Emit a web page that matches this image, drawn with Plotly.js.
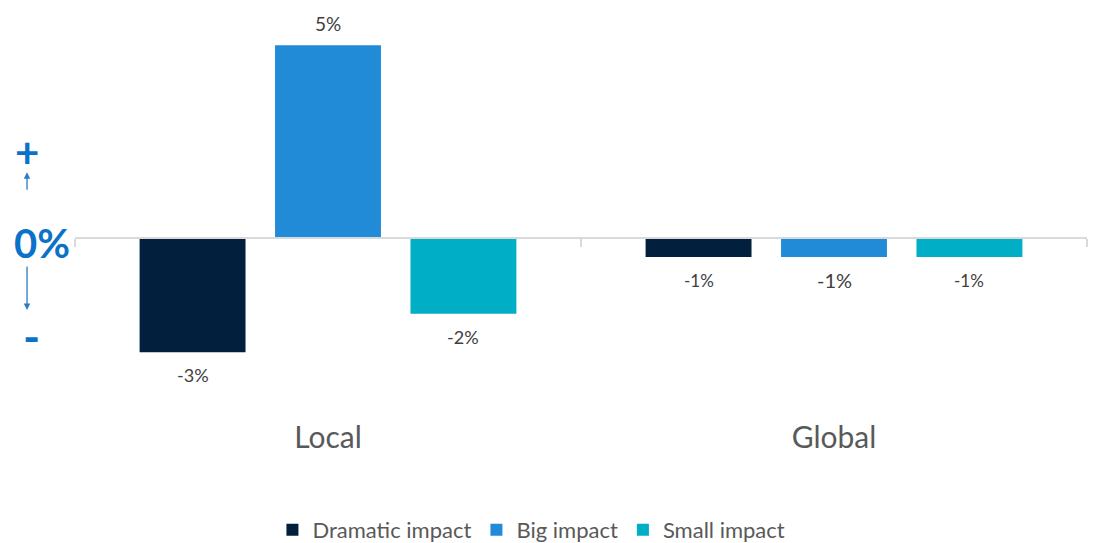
<!DOCTYPE html>
<html>
<head>
<meta charset="utf-8">
<script src="https://cdn.plot.ly/plotly-3.0.1.min.js"></script>
<style>html,body{margin:0;padding:0;background:#fff;}#chart{width:1098px;height:543px;}</style>
</head>
<body>
<div id="chart"></div>
<script>
const categories = ["Local", "Global"];
const seriesNames = ["Dramatic impact", "Big impact", "Small impact"];
const dramatic = [-3, -0.52];
const big = [5, -0.52];
const small = [-2, -0.52];
const labelSizes = [[18, 17], [19, 20], [18, 17]];
const colors = ["#02203d", "#228bd8", "#00afc6"];

const yMin = -3.7, yMax = 5.4;
const values = [dramatic, big, small];
const fmt = v => Math.round(v) + "%";

const W = 1098, H = 543;
const margin = {l: 75, r: 11, t: 30, b: 163.6};
const bargap = 0.197, bargroupgap = 0.218;
const plotW = W - margin.l - margin.r;
const slotPx = plotW / categories.length * (1 - bargap) / values.length;

const traces = values.map((vals, i) => ({
  type: "bar",
  name: seriesNames[i],
  x: categories,
  y: vals,
  marker: {color: colors[i]},
  hoverinfo: "skip"
}));

const labelAnns = [];
values.forEach((vals, i) => {
  vals.forEach((v, j) => {
    labelAnns.push({
      text: fmt(v), xref: "x", yref: "y", x: categories[j], y: v,
      xshift: (i - (values.length - 1) / 2) * slotPx,
      yshift: v >= 0 ? 22 : -23,
      xanchor: "center", yanchor: "middle", showarrow: false,
      font: {family: "Lato, 'Open Sans', sans-serif", size: labelSizes[i][j], color: "#404040"}
    });
  });
});

const blue = "#0b72c9";
const layout = {
  width: W, height: H,
  margin: margin,
  paper_bgcolor: "#fff", plot_bgcolor: "#fff",
  barmode: "group",
  bargap: bargap,
  bargroupgap: bargroupgap,
  font: {family: "Lato, 'Open Sans', sans-serif", color: "#595959"},
  showlegend: true,
  legend: {orientation: "h", x: 0.484, xref: "container", xanchor: "center",
           y: 0.024, yref: "container", yanchor: "middle",
           font: {size: 22, color: "#595959"}, itemwidth: 30, traceorder: "normal"},
  xaxis: {
    type: "category",
    anchor: "free",
    position: (0 - yMin) / (yMax - yMin),
    automargin: false,
    showline: true, linecolor: "#d9d9d9", linewidth: 1.5,
    ticks: "outside", tickson: "boundaries", ticklen: 8, tickcolor: "#d9d9d9", tickwidth: 1.5,
    showgrid: false,
    tickfont: {size: 30, color: "#595959"},
    ticklabelstandoff: 173
  },
  yaxis: {range: [yMin, yMax], visible: false, zeroline: false, showgrid: false, automargin: false},
  annotations: labelAnns.concat([
    {text: "<b>+</b>", xref: "paper", yref: "y", x: -0.0474, y: 2.21, xanchor: "center", yanchor: "middle",
     showarrow: false, font: {size: 42, color: blue}},
    {text: "<b>0%</b>", xref: "paper", yref: "y", x: -0.0326, y: -0.16, xanchor: "center", yanchor: "middle",
     showarrow: false, font: {size: 40, color: blue}},
    {text: "<b>-</b>", xref: "paper", yref: "y", x: -0.0425, y: -2.58, xanchor: "center", yanchor: "middle",
     showarrow: false, font: {size: 46, color: blue}},
    {text: "", xref: "paper", yref: "y", x: -0.0474, y: 1.69, ax: 0, ay: 19,
     showarrow: true, arrowhead: 2, arrowsize: 1, arrowwidth: 1.3, arrowcolor: "#2a7cc4"},
    {text: "", xref: "paper", yref: "y", x: -0.0474, y: -1.9, ax: 0, ay: -45,
     showarrow: true, arrowhead: 2, arrowsize: 1, arrowwidth: 1.3, arrowcolor: "#2a7cc4"}
  ])
};

Plotly.newPlot("chart", traces, layout, {displayModeBar: false, staticPlot: true});
</script>
</body>
</html>
